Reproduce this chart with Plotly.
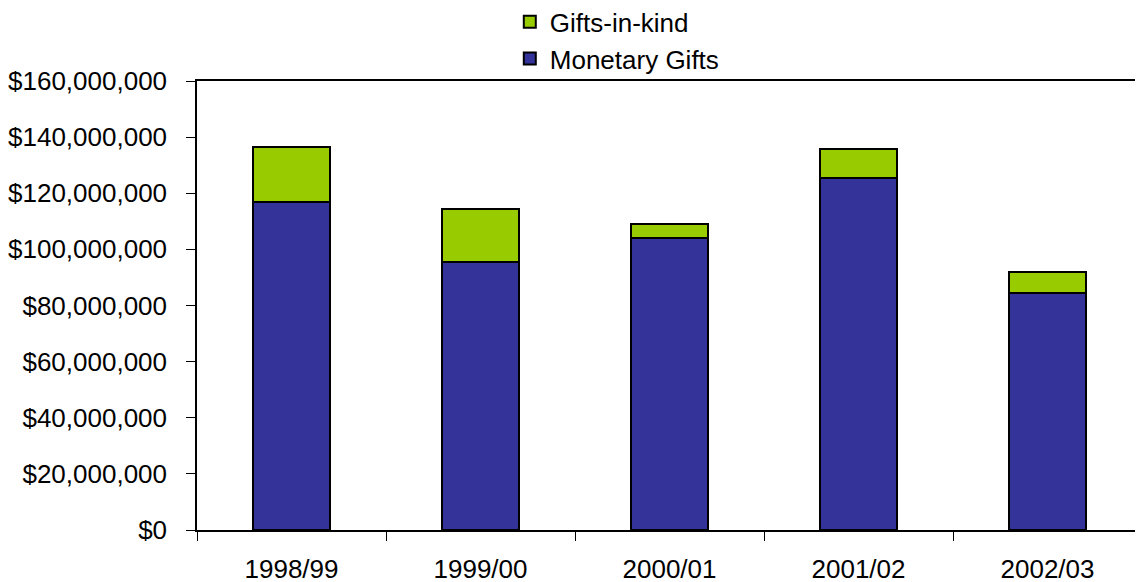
import plotly.graph_objects as go

years = ["1998/99", "1999/00", "2000/01", "2001/02", "2002/03"]
monetary = [117.0e6, 95.4e6, 104.0e6, 125.3e6, 84.4e6]
in_kind = [19.4e6, 18.9e6, 5.0e6, 10.5e6, 7.7e6]
y_ticks = [0, 20e6, 40e6, 60e6, 80e6, 100e6, 120e6, 140e6, 160e6]
y_tick_text = ["$0", "$20,000,000", "$40,000,000", "$60,000,000", "$80,000,000",
               "$100,000,000", "$120,000,000", "$140,000,000", "$160,000,000"]

FONT = "Liberation Sans, Arial, sans-serif"
FS = 26

fig = go.Figure()
fig.add_trace(go.Bar(x=years, y=monetary, name="Monetary Gifts", legendgroup="m", legendrank=2,
                     marker=dict(color="#333399", line=dict(color="black", width=2))))
fig.add_trace(go.Bar(x=years, y=in_kind, name="Gifts-in-kind", legendgroup="k", legendrank=1,
                     marker=dict(color="#99cc00", line=dict(color="black", width=2))))

fig.update_layout(
    barmode="stack",
    bargap=0.59,
    width=1143, height=582,
    margin=dict(l=189, r=9, t=73, b=60, autoexpand=False),
    paper_bgcolor="white", plot_bgcolor="white",
    font=dict(family=FONT, size=FS, color="black"),
    showlegend=True,
    legend=dict(x=0.331, y=1.184, xref="paper", yref="paper", xanchor="left", yanchor="top",
                orientation="v", traceorder="grouped",
                font=dict(family=FONT, size=FS, color="black"),
                itemwidth=30, tracegroupgap=0,
                bgcolor="rgba(0,0,0,0)"),
)
fig.update_xaxes(
    type="category", tickson="boundaries", ticks="outside", ticklen=9, tickwidth=1,
    tickcolor="black", showline=True, linecolor="black", linewidth=1.5, mirror=True,
    showgrid=False, tickfont=dict(family=FONT, size=FS, color="black"),
    ticklabelstandoff=15,
)
fig.update_yaxes(
    range=[0, 160e6], tickvals=y_ticks, ticktext=y_tick_text,
    ticks="outside", ticklen=9, tickwidth=1, tickcolor="black",
    showline=True, linecolor="black", linewidth=1.5, mirror=True,
    showgrid=False, zeroline=False,
    tickfont=dict(family=FONT, size=FS, color="black"),
    ticklabelstandoff=14,
)

fig.write_html("out.html")
